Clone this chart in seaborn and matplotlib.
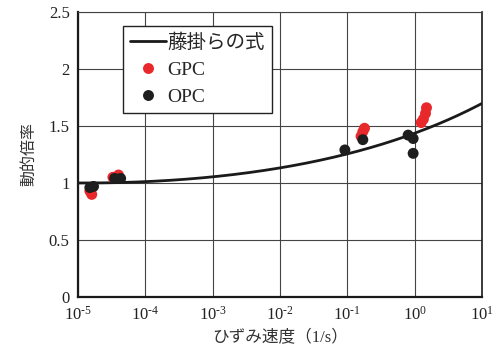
import numpy as np
import pandas as pd
import matplotlib
matplotlib.use("Agg")
import matplotlib.pyplot as plt
import seaborn as sns
from matplotlib.ticker import FixedLocator, FixedFormatter

# measured dynamic increase factors
gpc_rate = [1.5e-5, 1.6e-5, 3.3e-5, 4.0e-5, 0.16, 0.17, 0.18, 1.25, 1.35, 1.45, 1.5]
gpc_dif = [0.93, 0.90, 1.05, 1.07, 1.41, 1.45, 1.48, 1.53, 1.56, 1.61, 1.66]
opc_rate = [1.5e-5, 1.7e-5, 3.5e-5, 4.3e-5, 0.092, 0.17, 0.8, 0.95, 0.95]
opc_dif = [0.96, 0.97, 1.04, 1.04, 1.29, 1.38, 1.42, 1.39, 1.26]

# Fujikake et al. equation: DIF = (e/es)^(a*log10(e/es)^b)
static_rate = 1.2e-5
coef_a = 0.006
coef_b = 1.05

xtick_exp = [-5, -4, -3, -2, -1, 0, 1]
yticks = [0, 0.5, 1, 1.5, 2, 2.5]
ytick_labels = ["0", "0.5", "1", "1.5", "2", "2.5"]

sns.set_theme(style="white")
plt.rcParams["font.family"] = ["Liberation Serif", "Noto Sans CJK JP"]
plt.rcParams["mathtext.fontset"] = "custom"
plt.rcParams["mathtext.rm"] = "Liberation Serif"

fig = plt.figure(figsize=(5.01, 3.6), dpi=100)
ax = fig.add_axes([0.1557, 0.175, 0.8063, 0.7917])

rate = np.logspace(-5, 1, 400)
ratio = np.maximum(rate / static_rate, 1.0)
lg = np.log10(ratio)
dif = ratio ** (coef_a * lg ** coef_b)
curve = pd.DataFrame({"rate": rate, "dif": dif})

df = pd.concat([
    pd.DataFrame({"rate": gpc_rate, "dif": gpc_dif, "kind": "GPC"}),
    pd.DataFrame({"rate": opc_rate, "dif": opc_dif, "kind": "OPC"}),
])

ax.set_xscale("log")
sns.lineplot(data=curve, x="rate", y="dif", ax=ax, color="#1a1a1a", lw=2.0,
             label="藤掛らの式", zorder=3)
sns.scatterplot(data=df, x="rate", y="dif", hue="kind", ax=ax,
                palette={"GPC": "#e8282a", "OPC": "#1e1e1e"},
                s=62, edgecolor="none", zorder=4)

ax.set_xlim(1e-5, 1e1)
ax.set_ylim(0, 2.5)
ax.xaxis.set_major_locator(FixedLocator([10.0 ** e for e in xtick_exp]))
ax.xaxis.set_major_formatter(FixedFormatter(
    [r"$\mathregular{10^{%s}}$" % (r"\text{-}%d" % -e if e < 0 else str(e))
     for e in xtick_exp]))
ax.xaxis.set_minor_locator(FixedLocator([]))
ax.set_yticks(yticks)
ax.set_yticklabels(ytick_labels)
ax.tick_params(axis="both", length=0, labelsize=12, colors="#222222", pad=6)

ax.grid(True, which="major", color="#444444", lw=0.8)
for side in ["left", "bottom"]:
    ax.spines[side].set_color("#1a1a1a")
    ax.spines[side].set_linewidth(1.6)
ax.spines["right"].set_color("#1a1a1a")
ax.spines["right"].set_linewidth(1.2)
ax.spines["top"].set_color("#444444")
ax.spines["top"].set_linewidth(0.8)

ax.set_xlabel("ひずみ速度（1/s）", fontsize=12, color="#333333", labelpad=5)
ax.set_ylabel("動的倍率", fontsize=11.5, color="#333333", labelpad=8)

leg = ax.legend(loc="upper left", bbox_to_anchor=(0.111, 0.95), frameon=True,
                fancybox=False, fontsize=14, handlelength=1.85,
                labelspacing=0.5, borderpad=0.35, borderaxespad=0,
                handletextpad=0.1)
leg.get_frame().set_edgecolor("#222222")
leg.get_frame().set_linewidth(1.0)
leg.get_frame().set_alpha(1)

fig.savefig("out.png", dpi=100)
